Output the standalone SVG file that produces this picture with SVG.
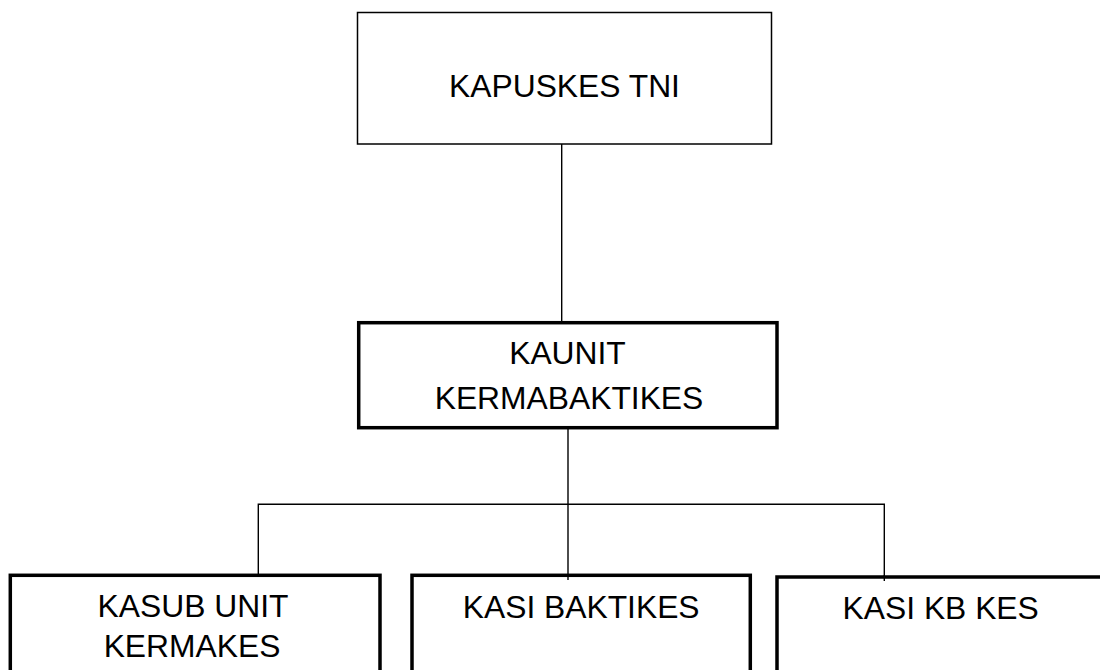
<svg xmlns="http://www.w3.org/2000/svg" width="1100" height="670" viewBox="0 0 1100 670">
<style>
  .box{fill:#fff;stroke:#000}
  .thin{stroke-width:1.5}
  .thick{stroke-width:3.5}
  .lbl{font-family:"Liberation Sans",Arial,sans-serif;font-size:31.8px;fill:#000;text-anchor:middle}
  .conn{stroke:#000;stroke-width:1.4;fill:none}
</style>
<rect width="1100" height="670" fill="#fff"/>
<g id="connectors">
  <line class="conn" x1="561.7" y1="144" x2="561.7" y2="322"/>
  <line class="conn" x1="568" y1="428" x2="568" y2="579"/>
  <polyline class="conn" points="258.3,575 258.3,504.3 884.3,504.3 884.3,579"/>
</g>
<g id="kapuskes">
  <rect class="box thin" x="357.5" y="12.5" width="414" height="131.5"/>
  <text class="lbl" x="564.5" y="96.5">KAPUSKES TNI</text>
</g>
<g id="kaunit">
  <rect class="box thick" x="358.7" y="322.7" width="418.3" height="105"/>
  <text class="lbl" x="567.5" y="364">KAUNIT</text>
  <text class="lbl" x="569" y="409">KERMABAKTIKES</text>
</g>
<g id="kasub">
  <rect class="box thick" x="10.3" y="575.3" width="369.7" height="130"/>
  <text class="lbl" x="193" y="617">KASUB UNIT</text>
  <text class="lbl" x="192" y="657">KERMAKES</text>
</g>
<g id="baktikes">
  <rect class="box thick" x="412" y="575.3" width="338.3" height="130"/>
  <text class="lbl" x="581.2" y="618">KASI BAKTIKES</text>
</g>
<g id="kbkes">
  <rect class="box thick" x="777" y="577" width="360" height="130"/>
  <text class="lbl" x="940.7" y="619">KASI KB KES</text>
</g>
<line class="conn" x1="568" y1="574" x2="568" y2="580"/>
<line class="conn" x1="884.3" y1="575" x2="884.3" y2="581"/>
</svg>
